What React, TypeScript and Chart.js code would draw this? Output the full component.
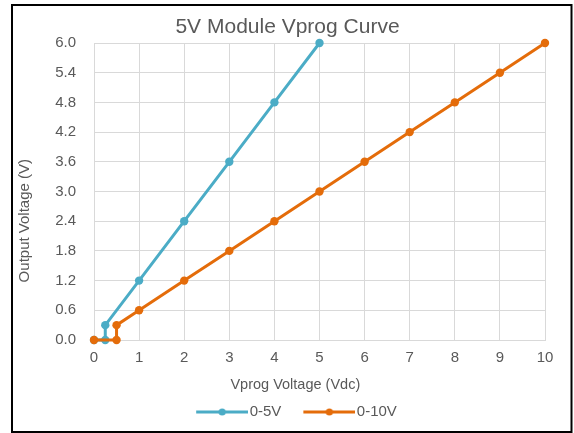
import React, { useEffect, useRef } from "react";
import { Chart, registerables } from "chart.js";

Chart.register(...registerables);

// ---- data ----
const chartTitle = "5V Module Vprog Curve";
const xAxisTitle = "Vprog Voltage (Vdc)";
const yAxisTitle = "Output Voltage (V)";
const seriesNames = ["0-5V", "0-10V"];

const x05 = [0, 0.25, 0.25, 1, 2, 3, 4, 5];
const y05 = [0, 0, 0.3, 1.2, 2.4, 3.6, 4.8, 6.0];

const x010 = [0, 0.5, 0.5, 1, 2, 3, 4, 5, 6, 7, 8, 9, 10];
const y010 = [0, 0, 0.3, 0.6, 1.2, 1.8, 2.4, 3.0, 3.6, 4.2, 4.8, 5.4, 6.0];

const xMin = 0;
const xMax = 10;
const xStep = 1;
const yMin = 0;
const yMax = 6;
const yStep = 0.6;

// ---- styles ----
const TEAL = "#4BACC6";
const ORANGE = "#E46C0A";
const TEXT = "#595959";
const GRID = "#D9D9D9";
const FONT = "'Liberation Sans', Arial, sans-serif";

// pads axis titles so that they sit off-centre like the original
const pad = (s: string, n: number) => s + " ".repeat(n);

function makeMarker(color: string): HTMLCanvasElement {
  const c = document.createElement("canvas");
  const o = 6;
  c.width = 46 + 2 * o;
  c.height = 10;
  const ctx = c.getContext("2d")!;
  ctx.strokeStyle = color;
  ctx.lineWidth = 3;
  ctx.beginPath();
  ctx.moveTo(o, 5);
  ctx.lineTo(o + 52, 5);
  ctx.stroke();
  ctx.fillStyle = color;
  ctx.beginPath();
  ctx.arc(o + 26, 5, 3.6, 0, Math.PI * 2);
  ctx.fill();
  return c;
}

const framePlugin = {
  id: "frame",
  afterDraw(chart: any) {
    const ctx = chart.ctx;
    ctx.save();
    ctx.strokeStyle = "#000000";
    ctx.lineWidth = 2;
    ctx.strokeRect(12, 5, 559.5, 427);
    ctx.restore();
  },
};

const shiftPlugin = {
  id: "boxShift",
  afterLayout(chart: any) {
    const l = chart.legend;
    if (l) {
      l.left += 24;
      l.right += 24;
    }
    const t = chart.titleBlock;
    if (t) {
      t.left += 15;
      t.right += 15;
    }
  },
};

export default function App() {
  const ref = useRef<HTMLCanvasElement | null>(null);

  useEffect(() => {
    if (!ref.current) return;
    const colors = [TEAL, ORANGE];
    const markers = colors.map(makeMarker);
    const chart = new Chart(ref.current, {
      type: "line",
      data: {
        datasets: [
          {
            label: seriesNames[0],
            data: x05.map((x, i) => ({ x, y: y05[i] })),
            borderColor: TEAL,
            backgroundColor: TEAL,
            borderWidth: 3,
            pointRadius: 4.2,
            pointBorderWidth: 0,
            pointBackgroundColor: TEAL,
            tension: 0,
            clip: false as any,
            order: 1,
          },
          {
            label: seriesNames[1],
            data: x010.map((x, i) => ({ x, y: y010[i] })),
            borderColor: ORANGE,
            backgroundColor: ORANGE,
            borderWidth: 3,
            pointRadius: 4.2,
            pointBorderWidth: 0,
            pointBackgroundColor: ORANGE,
            tension: 0,
            clip: false as any,
            order: 0,
          },
        ],
      },
      options: {
        responsive: false,
        animation: false,
        layout: { padding: { left: 0, right: 29, top: 0, bottom: 3.5 } },
        plugins: {
          tooltip: { enabled: false },
          title: {
            display: true,
            text: chartTitle,
            color: TEXT,
            font: { family: FONT, size: 21, weight: "normal" as any },
            padding: { top: 15, bottom: 2.8 },
          },
          legend: {
            display: true,
            position: "bottom",
            labels: {
              usePointStyle: true,
              pointStyleWidth: 46,
              padding: 22,
              color: TEXT,
              font: { family: FONT, size: 15 },
              generateLabels: (ch: any) =>
                ch.data.datasets.map((ds: any, i: number) => ({
                  text: ds.label,
                  fillStyle: colors[i],
                  strokeStyle: colors[i],
                  lineWidth: 0,
                  pointStyle: markers[i],
                  hidden: false,
                  datasetIndex: i,
                  fontColor: TEXT,
                })),
            },
          },
        },
        scales: {
          x: {
            type: "linear",
            min: xMin,
            max: xMax,
            afterFit: (s: any) => {
              s.height = 42.5;
            },
            grid: { color: GRID, lineWidth: 1, drawTicks: false },
            border: { color: GRID, width: 1 },
            ticks: {
              stepSize: xStep,
              padding: 9,
              color: TEXT,
              font: { family: FONT, size: 15 },
              maxRotation: 0,
            },
            title: {
              display: true,
              text: pad(xAxisTitle, 12),
              color: TEXT,
              font: { family: FONT, size: 14.5 },
              padding: { top: 9, bottom: -11.5 },
            },
          },
          y: {
            type: "linear",
            min: yMin,
            max: yMax,
            afterFit: (s: any) => {
              s.width = 94;
            },
            grid: { color: GRID, lineWidth: 1, drawTicks: false },
            border: { color: GRID, width: 1 },
            ticks: {
              stepSize: yStep,
              padding: 18,
              color: TEXT,
              font: { family: FONT, size: 15 },
              callback: (v: any) => Number(v).toFixed(1),
            },
            title: {
              display: true,
              text: pad(yAxisTitle, 14),
              color: TEXT,
              font: { family: FONT, size: 15 },
              padding: { top: 16, bottom: 0 },
            },
          },
        },
      },
      plugins: [framePlugin, shiftPlugin],
    });
    return () => chart.destroy();
  }, []);

  return (
    <div style={{ position: "absolute", left: 0, top: 0, width: 574, height: 433, background: "#fff" }}>
      <canvas ref={ref} width={574} height={433} />
    </div>
  );
}
